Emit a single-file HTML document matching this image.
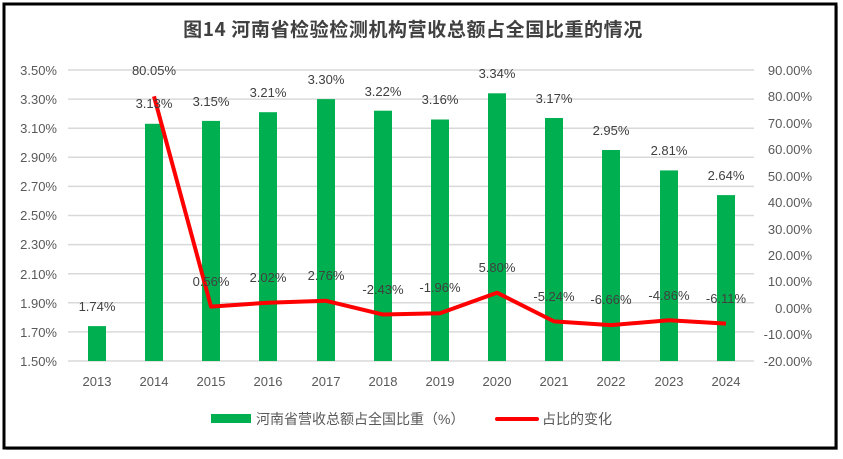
<!DOCTYPE html>
<html><head><meta charset="utf-8"><style>
body{margin:0;background:#fff;}
svg{display:block;font-family:"Liberation Sans","Noto Sans CJK SC",sans-serif;}
</style></head><body>
<svg width="843" height="459" viewBox="0 0 843 459" xmlns="http://www.w3.org/2000/svg">
<rect x="0" y="0" width="843" height="459" fill="#fff"/>
<rect x="6" y="6" width="832" height="444" fill="#bbb"/>
<rect x="4" y="4" width="832" height="444" fill="#fff" stroke="#000" stroke-width="3"/>
<text x="413" y="36" font-size="19" font-weight="bold" fill="#404040" text-anchor="middle" letter-spacing="0.6" font-family="'Noto Sans CJK SC',sans-serif">图14  河南省检验检测机构营收总额占全国比重的情况</text>
<g stroke="#d9d9d9" stroke-width="1.5">
<line x1="68" x2="754" y1="70" y2="70"/><line x1="68" x2="754" y1="99.1" y2="99.1"/><line x1="68" x2="754" y1="128.2" y2="128.2"/><line x1="68" x2="754" y1="157.3" y2="157.3"/><line x1="68" x2="754" y1="186.4" y2="186.4"/><line x1="68" x2="754" y1="215.5" y2="215.5"/><line x1="68" x2="754" y1="244.6" y2="244.6"/><line x1="68" x2="754" y1="273.7" y2="273.7"/><line x1="68" x2="754" y1="302.8" y2="302.8"/><line x1="68" x2="754" y1="331.9" y2="331.9"/><line x1="68" x2="754" y1="361" y2="361"/>
</g>
<g font-size="13" fill="#595959" text-anchor="end">
<text x="57" y="75">3.50%</text><text x="57" y="104">3.30%</text><text x="57" y="133">3.10%</text><text x="57" y="162">2.90%</text><text x="57" y="191">2.70%</text><text x="57" y="220">2.50%</text><text x="57" y="249">2.30%</text><text x="57" y="279">2.10%</text><text x="57" y="308">1.90%</text><text x="57" y="337">1.70%</text><text x="57" y="366">1.50%</text>
</g>
<g font-size="13" fill="#595959" text-anchor="end">
<text x="812" y="75">90.00%</text><text x="812" y="101">80.00%</text><text x="812" y="128">70.00%</text><text x="812" y="154">60.00%</text><text x="812" y="181">50.00%</text><text x="812" y="207">40.00%</text><text x="812" y="234">30.00%</text><text x="812" y="260">20.00%</text><text x="812" y="286">10.00%</text><text x="812" y="313">0.00%</text><text x="812" y="339">-10.00%</text><text x="812" y="366">-20.00%</text>
</g>
<g fill="#00b050">
<rect x="88" y="326.1" width="18" height="34.9"/>
<rect x="145" y="123.8" width="18" height="237.2"/>
<rect x="202" y="120.9" width="18" height="240.1"/>
<rect x="259" y="112.2" width="18" height="248.8"/>
<rect x="317" y="99.1" width="18" height="261.9"/>
<rect x="374" y="110.7" width="18" height="250.3"/>
<rect x="431" y="119.5" width="18" height="241.5"/>
<rect x="488" y="93.3" width="18" height="267.7"/>
<rect x="545" y="118" width="18" height="243"/>
<rect x="602" y="150" width="18" height="211"/>
<rect x="660" y="170.4" width="18" height="190.6"/>
<rect x="717" y="195.1" width="18" height="165.9"/>
</g>
<polyline fill="none" stroke="#ff0000" stroke-width="4" stroke-linejoin="round" points="154,96.3 211,306.6 268,302.7 326,300.8 383,314.5 440,313.3 497,292.7 554,321.4 611,325.1 669,320.3 726,323.6"/>
<g font-size="13" fill="#404040" text-anchor="middle">
<text x="97" y="311">1.74%</text><text x="154" y="108">3.13%</text><text x="211" y="106">3.15%</text><text x="268" y="97">3.21%</text><text x="326" y="84">3.30%</text><text x="383" y="96">3.22%</text><text x="440" y="104">3.16%</text><text x="497" y="78">3.34%</text><text x="554" y="103">3.17%</text><text x="611" y="135">2.95%</text><text x="669" y="155">2.81%</text><text x="726" y="180">2.64%</text>
<text x="154" y="75">80.05%</text><text x="211" y="286">0.56%</text><text x="268" y="282">2.02%</text><text x="326" y="280">2.76%</text><text x="383" y="294">-2.43%</text><text x="440" y="292">-1.96%</text><text x="497" y="272">5.80%</text><text x="554" y="301">-5.24%</text><text x="611" y="304">-6.66%</text><text x="669" y="300">-4.86%</text><text x="726" y="303">-6.11%</text>
</g>
<g font-size="13" fill="#595959" text-anchor="middle">
<text x="97" y="386">2013</text><text x="154" y="386">2014</text><text x="211" y="386">2015</text><text x="268" y="386">2016</text><text x="326" y="386">2017</text><text x="383" y="386">2018</text><text x="440" y="386">2019</text><text x="497" y="386">2020</text><text x="554" y="386">2021</text><text x="611" y="386">2022</text><text x="669" y="386">2023</text><text x="726" y="386">2024</text>
</g>
<rect x="211" y="414" width="40" height="9" fill="#00b050"/>
<text x="256" y="424" font-size="14" fill="#595959">河南省营收总额占全国比重（%）</text>
<line x1="497" x2="537" y1="419" y2="419" stroke="#ff0000" stroke-width="4" stroke-linecap="round"/>
<text x="542" y="424" font-size="14" fill="#595959">占比的变化</text>
</svg>
</body></html>
